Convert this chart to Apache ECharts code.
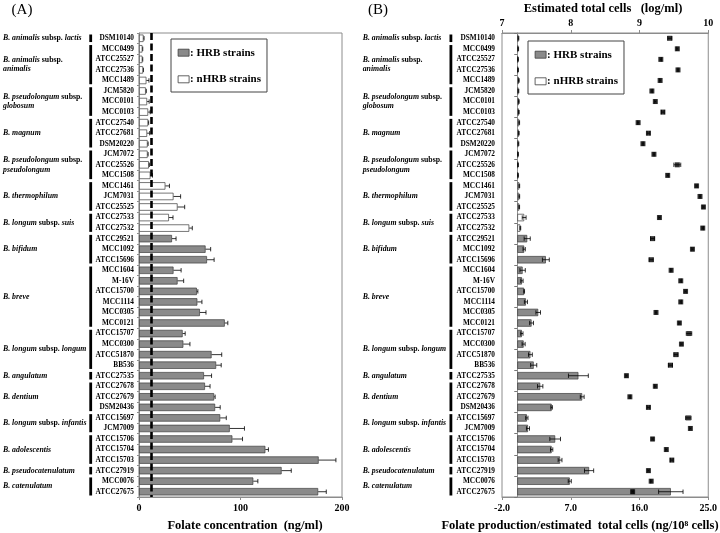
<!DOCTYPE html>
<html><head><meta charset="utf-8">
<script src="https://cdn.jsdelivr.net/npm/echarts@6/dist/echarts.min.js"></script>
<style>html,body{margin:0;padding:0;background:#fff}#c{width:720px;height:533px}</style>
</head><body><div id="c"></div>
<script>
const strains = ['DSM10140','MCC0499','ATCC25527','ATCC27536','MCC1489','JCM5820','MCC0101','MCC0103','ATCC27540','ATCC27681','DSM20220','JCM7072','ATCC25526','MCC1508','MCC1461','JCM7031','ATCC25525','ATCC27533','ATCC27532','ATCC29521','MCC1092','ATCC15696','MCC1604','M-16V','ATCC15700','MCC1114','MCC0305','MCC0121','ATCC15707','MCC0300','ATCC51870','BB536','ATCC27535','ATCC27678','ATCC27679','DSM20436','ATCC15697','JCM7009','ATCC15706','ATCC15704','ATCC15703','ATCC27919','MCC0076','ATCC27675'];
// 0 = nHRB, 1 = HRB
const hrb = [0,0,0,0,0,0,0,0,0,0,0,0,0,0,0,0,0,0,0,1,1,1,1,1,1,1,1,1,1,1,1,1,1,1,1,1,1,1,1,1,1,1,1,1];
const folateConc = [4.5,3.4,3.4,4,7.3,6.7,8,9,9,8,8.5,8.5,9.7,11.3,26,34,38,29.5,49.5,32.5,65.6,67,34,38,57,57.5,60,84.5,43,43.7,71.5,76,64,65,74,75,80,89.4,92,124.5,177,140.5,112.6,176.5];
const folateConcErr = [0.5,0.3,0.3,0.4,2.5,0.5,2,2,0.5,2.5,0.5,0.5,0.5,2,4,7,7,4,3,4,5,7,7.5,6,1,4.5,6,3,2.5,6.5,10,5,7.5,5,1,5,6,14.5,10,3,17,9.5,4.5,8];
const folatePerCell = [0.15,0.12,0.1,0.1,0.2,0.15,0.2,0.2,0.25,0.2,0.15,0.1,0.1,0.1,0.26,0.26,0.25,0.9,0.4,1.3,0.9,3.74,0.7,0.61,0.9,1.13,2.74,1.87,0.6,0.83,1.72,2.15,8.0,3.0,8.5,4.5,1.25,1.4,4.96,4.5,5.6,9.4,6.87,20.1];
const folatePerCellErr = [0.05,0.05,0.05,0.05,0.05,0.05,0.05,0.05,0.05,0.05,0.05,0.05,0.05,0.05,0.05,0.05,0.05,0.25,0.05,0.4,0.15,0.45,0.35,0.15,0.05,0.2,0.3,0.25,0.15,0.2,0.25,0.4,1.3,0.35,0.25,0.1,0.15,0.2,0.7,0.15,0.25,0.6,0.2,1.6];
const logCells = [9.44,9.55,9.31,9.56,9.30,9.18,9.23,9.34,8.98,9.13,9.05,9.21,9.55,9.41,9.83,9.88,9.93,9.29,9.92,9.19,9.77,9.17,9.46,9.60,9.67,9.60,9.24,9.58,9.72,9.61,9.53,9.45,8.81,9.23,8.86,9.13,9.71,9.74,9.19,9.39,9.47,9.13,9.17,8.90];
const logCellsErr = [0.03,0.01,0.01,0.01,0.01,0.01,0.01,0.02,0.01,0.02,0.01,0.01,0.05,0.01,0.01,0.01,0.01,0.01,0.01,0.03,0.01,0.03,0.01,0.01,0.01,0.01,0.01,0.01,0.04,0.01,0.03,0.03,0.01,0.01,0.01,0.02,0.04,0.01,0.01,0.01,0.02,0.01,0.01,0.01];
const groupNames = ['B. animalis subsp. lactis','B. animalis subsp.\nanimalis','B. pseudolongum subsp.\nglobosum','B. magnum','B. pseudolongum subsp.\npseudolongum','B. thermophilum','B. longum subsp. suis','B. bifidum','B. breve','B. longum subsp. longum','B. angulatum','B. dentium','B. longum subsp. infantis','B. adolescentis','B. pseudocatenulatum','B. catenulatum'];
const groupStart = [0,1,5,8,11,14,17,19,22,28,32,33,36,38,41,42];
const groupEnd   = [0,4,7,10,13,16,18,21,27,31,32,35,37,40,41,43];
const concTicks = [0,100,200];
const perCellTicks = [-2,7,16,25];
const cellTicks = [7,8,9,10];
const detectionLimit = 12.5;

const FF = 'Liberation Serif';
const GRAY = '#8a8a8a', EDGE = '#3c3c3c', FRAME = '#8c8c8c';

function richLabel(s){
  return s.split('\n').map(line => line.split(/(subsp\.)/).map(p => p === 'subsp.' ? '{n|subsp.}' : (p ? '{i|' + p + '}' : '')).join('')).join('\n');
}
const richStyles = {
  i:{fontStyle:'italic',fontWeight:'bold',fontSize:7.8,fontFamily:FF,fill:'#000',lineHeight:9.5},
  n:{fontStyle:'normal',fontWeight:'bold',fontSize:7.8,fontFamily:FF,fill:'#000',lineHeight:9.5}
};
function groupRender(barOff, textOff){
  return function(params, api){
    const k = params.dataIndex;
    const cs = params.coordSys;
    const band = api.size([0,1])[1];
    const y0 = api.coord([0, groupStart[k]])[1] - band/2 + 1.5;
    const y1 = api.coord([0, groupEnd[k]])[1] + band/2 - 1.5;
    return {type:'group', children:[
      {type:'rect', shape:{x: cs.x + barOff, y: y0, width: 2.8, height: y1 - y0}, style:{fill:'#000'}},
      {type:'text', x: cs.x + textOff, y: (y0 + y1)/2, style:{text: richLabel(groupNames[k]), rich: richStyles, align:'left', verticalAlign:'middle', fontFamily:FF, fontSize:7.8, fill:'#000'}}
    ]};
  };
}
function errRender(twoSided, capH){
  return function(params, api){
    const v = api.value(0), idx = api.value(1), e = api.value(2);
    const p0 = api.coord([twoSided ? v - e : v, idx]);
    const p1 = api.coord([v + e, idx]);
    const st = {stroke:'#000', lineWidth:0.8};
    const ch = [
      {type:'line', shape:{x1:p0[0], y1:p0[1], x2:p1[0], y2:p1[1]}, style:st},
      {type:'line', shape:{x1:p1[0], y1:p1[1]-capH, x2:p1[0], y2:p1[1]+capH}, style:st}
    ];
    if (twoSided) ch.push({type:'line', shape:{x1:p0[0], y1:p0[1]-capH, x2:p0[0], y2:p0[1]+capH}, style:st});
    return {type:'group', children: ch};
  };
}
const labelFont = {fontFamily:FF, fontWeight:'bold', color:'#000'};
const catLabel = Object.assign({fontSize:7.3, interval:0}, labelFont);

const legendCommon = {
  orient:'vertical', itemWidth:11, itemHeight:7, itemGap:12.6,
  borderColor:'#444', borderWidth:1, padding:[6.7,6,5.7,6.7],
  icon:'rect', formatter: n => ': ' + n,
  textStyle:{fontFamily:FF, fontWeight:'bold', fontSize:11, color:'#000', lineHeight:14, padding:[0,0,0,-4]},
  data:[{name:'HRB strains', itemStyle:{color:GRAY, borderColor:EDGE, borderWidth:0.8}},
        {name:'nHRB strains', itemStyle:{color:'#fff', borderColor:EDGE, borderWidth:0.8}}]
};

const option = {
  animation:false,
  backgroundColor:'#fff',
  grid:[
    {left:139, top:33, width:203, height:464, show:true, borderColor:FRAME, borderWidth:1},
    {left:502, top:33, width:207, height:464, show:true, borderColor:FRAME, borderWidth:1}
  ],
  legend:[
    Object.assign({left:171, top:39}, legendCommon),
    Object.assign({left:528, top:41}, legendCommon)
  ],
  xAxis:[
    {type:'value', gridIndex:0, min:0, max:200, interval:100, splitLine:{show:false},
     axisLine:{show:true, lineStyle:{color:FRAME}}, axisTick:{show:true, length:3, lineStyle:{color:FRAME}},
     axisLabel:Object.assign({fontSize:10, margin:6, customValues:concTicks}, labelFont)},
    {type:'value', gridIndex:1, min:-2, max:25, splitLine:{show:false},
     axisLine:{show:true, onZero:false, lineStyle:{color:FRAME}}, axisTick:{show:true, length:3, customValues:perCellTicks, lineStyle:{color:FRAME}},
     axisLabel:Object.assign({fontSize:10, margin:6, customValues:perCellTicks, formatter:v => v.toFixed(1)}, labelFont)},
    {type:'value', gridIndex:1, position:'top', min:7, max:10, interval:1, splitLine:{show:false},
     axisLine:{show:true, onZero:false, lineStyle:{color:FRAME}}, axisTick:{show:true, length:3, lineStyle:{color:FRAME}},
     axisLabel:Object.assign({fontSize:10, margin:5}, labelFont)}
  ],
  yAxis:[
    {type:'category', gridIndex:0, data:strains, inverse:true, position:'left',
     axisLine:{show:true, onZero:false, lineStyle:{color:FRAME}}, axisTick:{show:true, length:2, lineStyle:{color:FRAME}},
     axisLabel:Object.assign({margin:5}, catLabel)},
    {type:'category', gridIndex:1, data:strains, inverse:true, position:'left',
     axisLine:{show:false, onZero:false}, axisTick:{show:false},
     axisLabel:Object.assign({margin:7}, catLabel)},
    {type:'category', gridIndex:1, data:strains, inverse:true, position:'left',
     axisLine:{show:true, onZero:true, onZeroAxisIndex:1, lineStyle:{color:'#777', width:0.8}},
     axisTick:{show:true, length:3, lineStyle:{color:'#777'}}, axisLabel:{show:false}}
  ],
  graphic:[
    {type:'text', x:22, y:10, style:{text:'(A)', font:'15px "Liberation Serif"', fill:'#000', align:'center', verticalAlign:'middle'}},
    {type:'text', x:378, y:10, style:{text:'(B)', font:'15px "Liberation Serif"', fill:'#000', align:'center', verticalAlign:'middle'}},
    {type:'text', x:245, y:526, style:{text:'Folate concentration  (ng/ml)', font:'bold 12.5px "Liberation Serif"', fill:'#000', align:'center', verticalAlign:'middle'}},
    {type:'text', x:580, y:526, style:{text:'Folate production/estimated  total cells (ng/10\u2078 cells)', font:'bold 12.5px "Liberation Serif"', fill:'#000', align:'center', verticalAlign:'middle'}},
    {type:'text', x:603, y:9, style:{text:'Estimated total cells   (log/ml)', font:'bold 12.5px "Liberation Serif"', fill:'#000', align:'center', verticalAlign:'middle'}}
  ],
  series:[
    {type:'bar', name:'HRB strains', xAxisIndex:0, yAxisIndex:0, barWidth:'70%', barGap:'-100%',
     data:folateConc.map((v,i)=>hrb[i]?v:'-'), itemStyle:{color:GRAY, borderColor:EDGE, borderWidth:0.7},
     markLine:{silent:true, symbol:'none', label:{show:false}, lineStyle:{type:[7,3.5], width:2.6, color:'#000'}, data:[{xAxis:detectionLimit}]}},
    {type:'bar', name:'nHRB strains', xAxisIndex:0, yAxisIndex:0, barWidth:'70%', barGap:'-100%',
     data:folateConc.map((v,i)=>hrb[i]?'-':v), itemStyle:{color:'#fff', borderColor:EDGE, borderWidth:0.7}},
    {type:'custom', xAxisIndex:0, yAxisIndex:0, renderItem:errRender(false,2.2), z:5,
     data:folateConc.map((v,i)=>[v,i,folateConcErr[i]])},
    {type:'bar', name:'HRB strains', xAxisIndex:1, yAxisIndex:1, barWidth:'70%', barGap:'-100%',
     data:folatePerCell.map((v,i)=>hrb[i]?v:'-'), itemStyle:{color:GRAY, borderColor:EDGE, borderWidth:0.7}},
    {type:'bar', name:'nHRB strains', xAxisIndex:1, yAxisIndex:1, barWidth:'70%', barGap:'-100%',
     data:folatePerCell.map((v,i)=>hrb[i]?'-':v), itemStyle:{color:'#fff', borderColor:EDGE, borderWidth:0.7}},
    {type:'custom', xAxisIndex:1, yAxisIndex:1, renderItem:errRender(true,2.2), z:5,
     data:folatePerCell.map((v,i)=>[v,i,folatePerCellErr[i]])},
    {type:'custom', xAxisIndex:2, yAxisIndex:1, renderItem:errRender(true,2.2), z:6,
     data:logCells.map((v,i)=>[v,i,logCellsErr[i]])},
    {type:'scatter', xAxisIndex:2, yAxisIndex:1, symbol:'rect', symbolSize:5, z:7,
     itemStyle:{color:'#000'}, data:logCells.map((v,i)=>[v,i])},
    {type:'custom', xAxisIndex:0, yAxisIndex:0, renderItem:groupRender(-49.7,-136), silent:true,
     data:groupStart.map(s=>[0,s])},
    {type:'custom', xAxisIndex:1, yAxisIndex:1, renderItem:groupRender(-52.5,-139.3), silent:true,
     data:groupStart.map(s=>[0,s])}
  ]
};
const chart = echarts.init(document.getElementById('c'), null, {renderer:'canvas'});
chart.setOption(option);
</script>
</body></html>
